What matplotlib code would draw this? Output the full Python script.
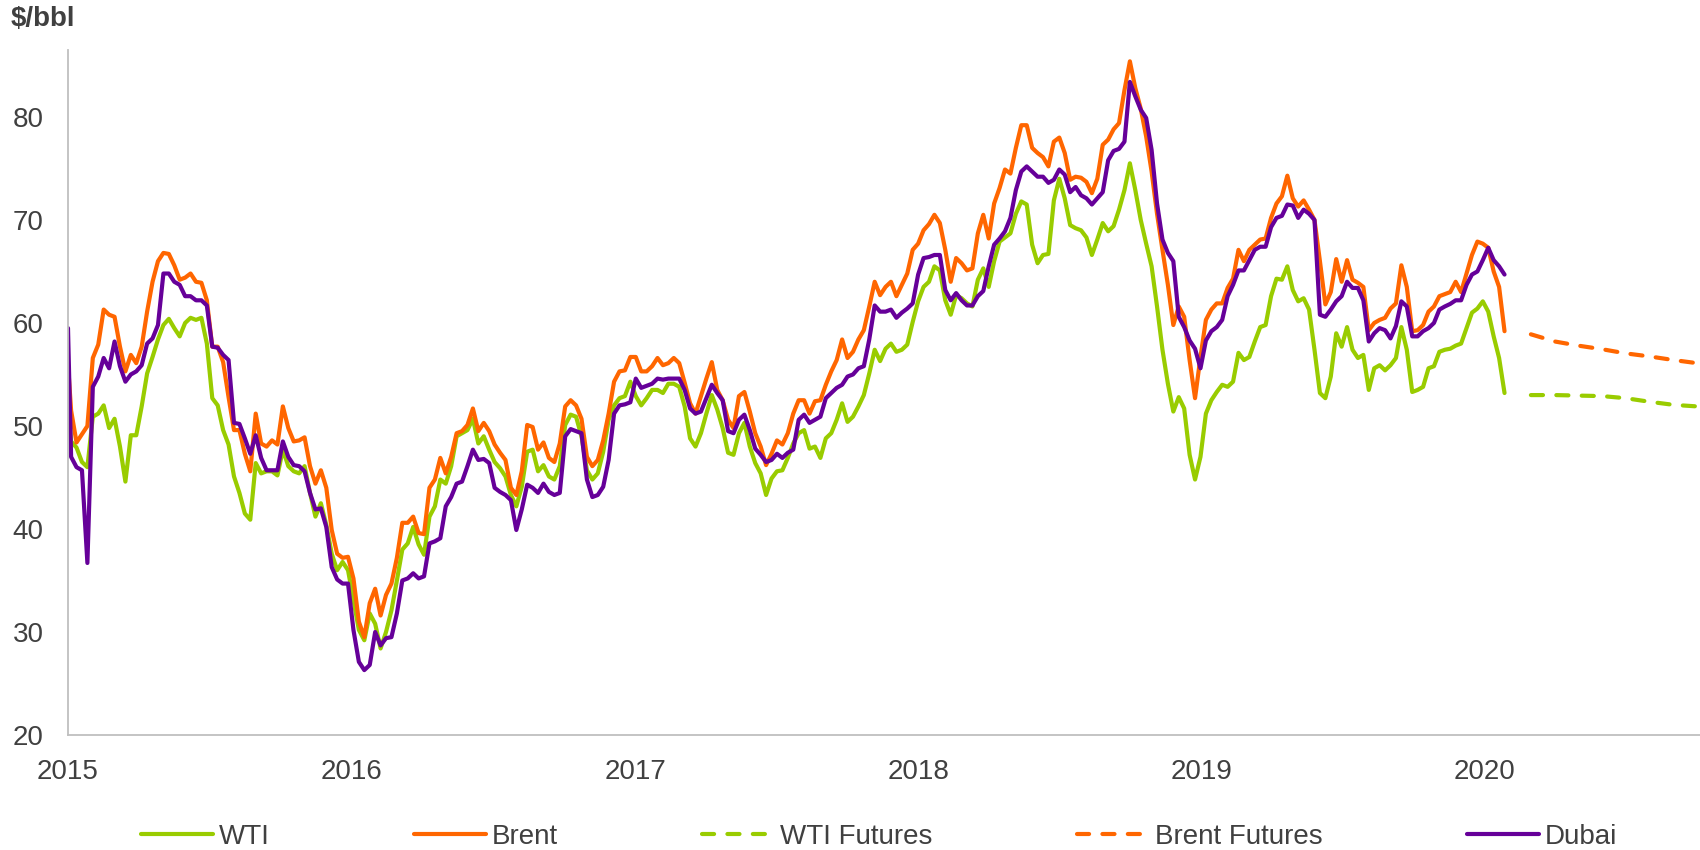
import matplotlib
matplotlib.use("Agg")
import matplotlib.pyplot as plt
import pandas as pd

plt.rcParams['font.family'] = ['Liberation Sans', 'DejaVu Sans']

# ---------------- data ----------------
# first point on 1 Jan 2015, then weekly (Mondays) from 5 Jan 2015 to 27 Jan 2020
dates = pd.DatetimeIndex([pd.Timestamp('2015-01-01')]).append(
    pd.date_range('2015-01-05', periods=265, freq='7D'))

wti = [52,
 48.5, 47.9, 46.5, 46, 50.9, 51.2, 52, 49.8, 50.7, 48,
 44.6, 49.1, 49.1, 51.9, 55.1, 56.7, 58.4, 59.8, 60.4, 59.5,
 58.7, 60, 60.5, 60.3, 60.5, 58, 52.7, 52, 49.6, 48.2,
 45.1, 43.5, 41.5, 40.9, 46.4, 45.4, 45.6, 45.6, 45.2, 47.7,
 46.1, 45.6, 45.4, 46.1, 43.5, 41.2, 42.5, 40.4, 37.6, 36,
 36.8, 36, 33.1, 30.2, 29.2, 31.8, 30.8, 28.4, 30, 32.1,
 35, 38, 38.6, 40.2, 38.5, 37.5, 41.2, 42.2, 44.8, 44.4,
 46.1, 49, 49.3, 49.6, 50.7, 48.3, 49, 47.7, 46.5, 45.9,
 45.1, 43.3, 42.2, 44.1, 47.5, 47.7, 45.6, 46.2, 45.1, 44.8,
 46.1, 50.1, 51.1, 50.9, 49, 45.7, 44.8, 45.4, 47.5, 50.6,
 52, 52.7, 52.9, 54.3, 52.9, 52, 52.7, 53.5, 53.5, 53.2,
 54.1, 54.1, 53.8, 51.9, 48.8, 48, 49.3, 51.2, 53, 51.6,
 49.8, 47.4, 47.2, 49.3, 50.3, 48, 46.4, 45.4, 43.3, 44.9,
 45.6, 45.7, 46.9, 48.3, 49.3, 49.6, 47.8, 48, 46.9, 48.8,
 49.3, 50.6, 52.2, 50.4, 50.9, 51.9, 53, 55.1, 57.4, 56.3,
 57.5, 58, 57.2, 57.4, 57.9, 60.1, 62.1, 63.5, 64, 65.5,
 65.1, 62.2, 60.8, 62.7, 62.4, 61.9, 61.6, 64.2, 65.3, 63.5,
 66, 67.9, 68.3, 68.7, 70.6, 71.8, 71.5, 67.6, 65.8, 66.6,
 66.7, 71.9, 74, 72.1, 69.5, 69.2, 69, 68.3, 66.6, 68.1,
 69.7, 68.9, 69.4, 71, 72.9, 75.5, 72.9, 70, 67.7, 65.5,
 61.6, 57.4, 54.1, 51.4, 52.8, 51.7, 47.2, 44.8, 47, 51.2,
 52.5, 53.3, 54, 53.8, 54.3, 57.1, 56.4, 56.7, 58.2, 59.6,
 59.8, 62.6, 64.3, 64.2, 65.5, 63.2, 62.1, 62.4, 61.3, 57.4,
 53.2, 52.7, 54.8, 59, 57.7, 59.6, 57.4, 56.6, 56.9, 53.5,
 55.6, 55.9, 55.4, 55.9, 56.6, 59.6, 57.4, 53.3, 53.5, 53.8,
 55.6, 55.8, 57.2, 57.4, 57.5, 57.8, 58, 59.5, 61, 61.4,
 62.1, 61.1, 58.7, 56.6, 53.2]

brent = [56,
 51.5, 48.4, 49.2, 50, 56.6, 57.9, 61.3, 60.8, 60.6, 57.7,
 55.3, 56.9, 56.1, 57.7, 61.1, 64, 66, 66.8, 66.7, 65.6,
 64.2, 64.4, 64.8, 64, 63.9, 62.2, 57.7, 57.7, 56.2, 52.8,
 49.6, 49.6, 47.3, 45.6, 51.2, 48.3, 48, 48.6, 48.2, 51.9,
 49.8, 48.5, 48.6, 48.9, 46.1, 44.4, 45.7, 44, 39.9, 37.6,
 37.2, 37.3, 35.2, 31, 29.5, 32.8, 34.2, 31.6, 33.6, 34.7,
 37.2, 40.6, 40.6, 41.2, 39.6, 39.5, 44, 44.8, 46.9, 45.4,
 47, 49.3, 49.5, 50.1, 51.7, 49.5, 50.3, 49.5, 48.2, 47.4,
 46.7, 44, 43.3, 45.6, 50.1, 49.9, 47.7, 48.4, 46.9, 46.5,
 48.3, 51.9, 52.5, 52, 50.7, 47, 46.1, 46.7, 48.6, 51.2,
 54.3, 55.3, 55.4, 56.7, 56.7, 55.3, 55.3, 55.8, 56.6, 55.9,
 56.1, 56.6, 56.1, 54.2, 52.2, 51.2, 52.9, 54.6, 56.2, 53.5,
 52.5, 50.6, 49.8, 52.9, 53.3, 51.4, 49.3, 48, 46.2, 47.3,
 48.6, 48.2, 49.3, 51.2, 52.5, 52.5, 51.2, 52.4, 52.5, 54,
 55.3, 56.4, 58.4, 56.6, 57.2, 58.4, 59.3, 61.6, 64, 62.7,
 63.5, 64, 62.6, 63.7, 64.8, 67.1, 67.7, 69, 69.6, 70.5,
 69.7, 67.1, 64, 66.3, 65.8, 65.1, 65.3, 68.7, 70.5, 68.2,
 71.6, 73.1, 74.9, 74.5, 77, 79.2, 79.2, 77, 76.5, 76.1,
 75.2, 77.6, 78, 76.5, 73.9, 74.2, 74.1, 73.7, 72.6, 74,
 77.3, 77.8, 78.8, 79.4, 82.6, 85.4, 82.8, 80.8, 78.1, 74.7,
 70.6, 67.1, 63.7, 59.8, 61.6, 60.6, 56.4, 52.7, 56.7, 60.3,
 61.3, 61.9, 61.9, 63.4, 64.3, 67.1, 66, 67.1, 67.6, 68.1,
 68.2, 70.2, 71.6, 72.3, 74.3, 72.1, 71.3, 71.9, 71, 70,
 66, 61.8, 63, 66.2, 64, 66.1, 64.2, 63.9, 63.5, 59.3,
 60, 60.3, 60.5, 61.4, 61.9, 65.6, 63.5, 59.2, 59.3, 59.8,
 61.1, 61.6, 62.6, 62.8, 63, 64, 63, 64.8, 66.6, 67.9,
 67.7, 67.3, 65, 63.5, 59.2]

dubai = [59.5,
 47, 46, 45.7, 36.7, 53.8, 54.8, 56.6, 55.6, 58.2, 55.8,
 54.3, 55, 55.3, 55.9, 58, 58.5, 59.8, 64.8, 64.8, 64,
 63.7, 62.6, 62.6, 62.2, 62.2, 61.7, 57.7, 57.6, 56.9, 56.4,
 50.3, 50.2, 48.8, 47.3, 49.1, 46.9, 45.7, 45.7, 45.7, 48.5,
 47, 46.2, 46.1, 45.6, 43.5, 41.9, 42, 40.2, 36.3, 35.1,
 34.7, 34.7, 30.2, 27.1, 26.3, 26.8, 30, 28.7, 29.4, 29.5,
 31.8, 35, 35.2, 35.7, 35.2, 35.4, 38.6, 38.8, 39.1, 42.2,
 43.1, 44.4, 44.6, 46.1, 47.7, 46.7, 46.8, 46.4, 44, 43.6,
 43.3, 42.8, 39.9, 41.9, 44.3, 44, 43.5, 44.4, 43.6, 43.3,
 43.5, 49, 49.7, 49.5, 49.3, 44.8, 43.1, 43.3, 44.1, 46.7,
 51.2, 52, 52.1, 52.3, 54.6, 53.7, 53.9, 54.1, 54.6, 54.5,
 54.6, 54.6, 54.6, 53.5, 51.7, 51.2, 51.4, 52.7, 54, 53.2,
 52.5, 49.5, 49.3, 50.6, 51.1, 49.6, 47.8, 47.2, 46.5, 46.7,
 47.3, 46.9, 47.4, 47.7, 50.6, 51.1, 50.3, 50.6, 50.9, 52.7,
 53.2, 53.7, 54, 54.8, 55, 55.6, 55.8, 58.4, 61.7, 61.1,
 61.1, 61.3, 60.5, 61, 61.4, 61.9, 64.7, 66.3, 66.4, 66.6,
 66.6, 63.2, 62.2, 62.9, 62.2, 61.7, 61.7, 62.6, 63.1, 65.5,
 67.6, 68.2, 68.9, 70.2, 72.9, 74.7, 75.2, 74.7, 74.2, 74.2,
 73.6, 73.9, 74.9, 74.4, 72.7, 73.2, 72.4, 72.1, 71.5, 72.1,
 72.7, 75.8, 76.7, 76.9, 77.6, 83.4, 82, 80.7, 79.9, 76.8,
 71.6, 68.1, 66.8, 66, 60.6, 59.6, 58.3, 57.5, 55.6, 58.3,
 59.2, 59.6, 60.3, 62.6, 63.7, 65.1, 65.1, 66.1, 67.1, 67.4,
 67.4, 69.3, 70.2, 70.4, 71.5, 71.4, 70.2, 71, 70.6, 70,
 60.8, 60.6, 61.3, 62.1, 62.6, 64, 63.4, 63.4, 62.2, 58.2,
 59, 59.5, 59.3, 58.5, 59.7, 62.1, 61.6, 58.7, 58.7, 59.2,
 59.5, 60, 61.3, 61.6, 61.85, 62.2, 62.2, 63.7, 64.7, 65,
 66.1, 67.3, 66.1, 65.5, 64.7]

# futures curves (monthly, Mar-Oct 2020)
fut_dates = pd.date_range('2020-03-01', periods=8, freq='MS')
wti_fut = [53.0, 53.0, 52.95, 52.9, 52.7, 52.35, 52.05, 51.9]
brent_fut = [58.9, 58.2, 57.8, 57.45, 57.05, 56.75, 56.4, 56.1]

years = [2015, 2016, 2017, 2018, 2019, 2020]
yticks = [20, 30, 40, 50, 60, 70, 80]

# ---------------- style ----------------
C_WTI = '#99CC00'
C_BRENT = '#FF6600'
C_DUBAI = '#660099'
C_TEXT = '#404040'
C_AXIS = '#BFBFBF'
LW = 3.0
DASH = (0, (2.9, 3.2))
FS = 20

fig = plt.figure(figsize=(17, 8.5), dpi=100)
ax = fig.add_axes([68 / 1700, 115 / 850, 1632 / 1700, 685 / 850])

common = dict(lw=LW, solid_joinstyle='round', solid_capstyle='round')
h_wti, = ax.plot(dates, wti, color=C_WTI, label='WTI', **common)
h_brent, = ax.plot(dates, brent, color=C_BRENT, label='Brent', **common)
h_wtif, = ax.plot(fut_dates, wti_fut, color=C_WTI, lw=LW, linestyle=DASH,
                  dash_capstyle='round', label='WTI Futures')
h_brentf, = ax.plot(fut_dates, brent_fut, color=C_BRENT, lw=LW, linestyle=DASH,
                    dash_capstyle='round', label='Brent Futures')
h_dubai, = ax.plot(dates, dubai, color=C_DUBAI, label='Dubai', **common)

ax.set_xlim(pd.Timestamp('2015-01-01'), pd.Timestamp('2020-10-05'))
ax.set_ylim(20, 86.5)
ax.set_xticks([pd.Timestamp(f'{y}-01-01') for y in years])
ax.set_xticklabels([str(y) for y in years])
ax.set_yticks(yticks)
ax.set_yticklabels([str(v) for v in yticks])

for s in ['top', 'right']:
    ax.spines[s].set_visible(False)
for s in ['left', 'bottom']:
    ax.spines[s].set_color(C_AXIS)
    ax.spines[s].set_linewidth(1.3)

ax.tick_params(axis='both', length=0, labelsize=FS, labelcolor=C_TEXT)
ax.tick_params(axis='x', pad=17)
ax.tick_params(axis='y', pad=17.5)

fig.text(11 / 1700, 1 - 19 / 850, r'\$/bbl', fontsize=FS, fontweight='bold',
         color=C_TEXT, ha='left', va='center')

leg = fig.legend(handles=[h_wti, h_brent, h_wtif, h_brentf, h_dubai],
                 loc='center left', bbox_to_anchor=(141 / 1700, 1 - 837 / 850),
                 bbox_transform=fig.transFigure, ncol=5, frameon=False,
                 fontsize=FS, handlelength=2.6, handletextpad=0.2,
                 columnspacing=5.2, borderpad=0, borderaxespad=0)
for t in leg.get_texts():
    t.set_color(C_TEXT)

fig.savefig('out.png', dpi=100)
